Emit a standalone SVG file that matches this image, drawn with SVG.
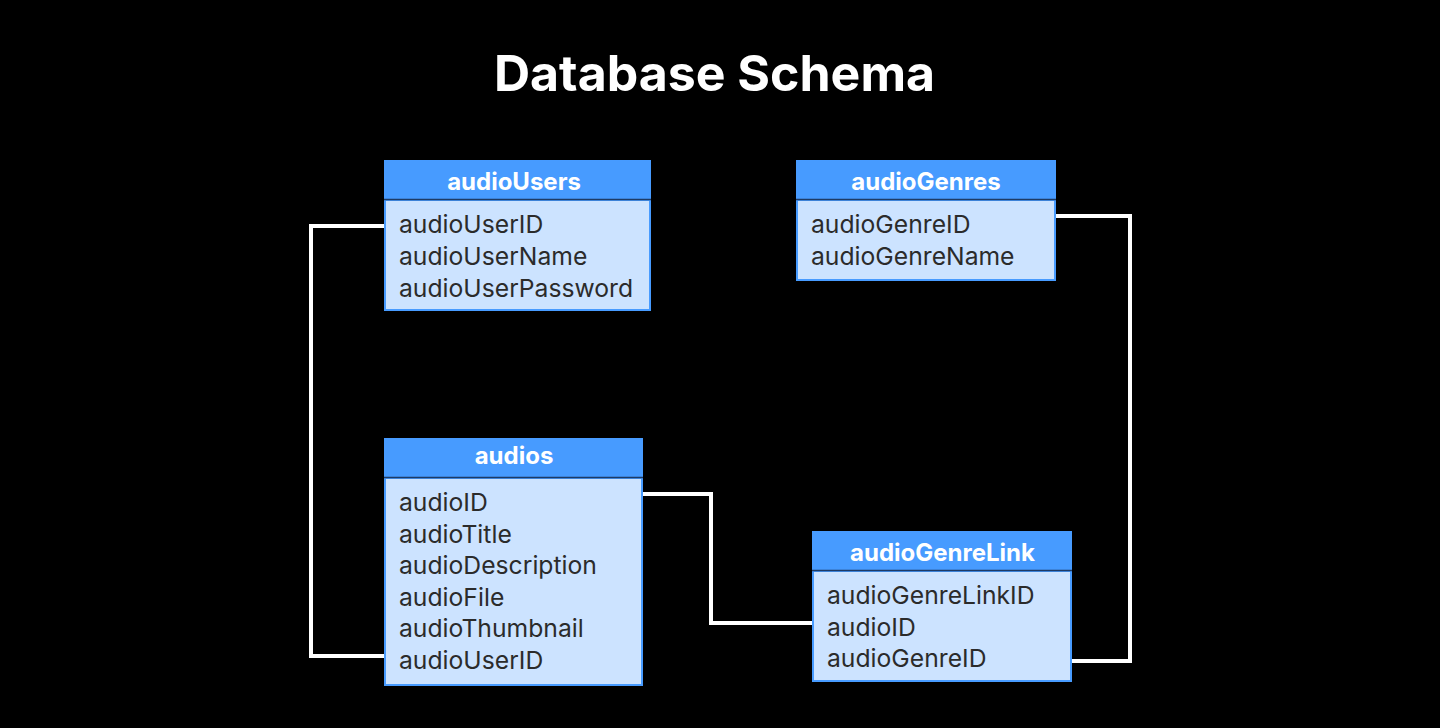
<svg xmlns="http://www.w3.org/2000/svg" width="1440" height="728" viewBox="0 0 1440 728">
<style>
.hd{fill:#479bff;stroke:#479bff;stroke-width:1}
.bd{fill:#cce3ff;stroke:#479bff;stroke-width:2}
.sep{stroke:#1d3b66;stroke-width:1.5}
.ht{font-family:Inter,"Liberation Sans",sans-serif;font-weight:700;font-size:24px;fill:#ffffff;text-anchor:middle}
.ft{font-family:Inter,"Liberation Sans",sans-serif;font-size:24.7px;fill:#2b2b2b}
.title{font-family:Inter,"Liberation Sans",sans-serif;font-weight:700;font-size:50px;fill:#ffffff;text-anchor:middle}
.cn{fill:none;stroke:#ffffff;stroke-width:4}
</style>
<rect width="1440" height="728" fill="#000000"/>
<text class="title" x="714.5" y="91">Database Schema</text>
<g id="connectors">
<polyline class="cn" points="384,226 311,226 311,656 384,656"/>
<polyline class="cn" points="643,494 711,494 711,623 812,623"/>
<polyline class="cn" points="1056,216 1130,216 1130,661 1072,661"/>
</g>
<g id="audioUsers">
<rect class="hd" x="384.5" y="160.5" width="266" height="39"/>
<rect class="bd" x="385" y="200" width="265" height="110"/>
<line class="sep" x1="384" y1="199.5" x2="651" y2="199.5"/>
<text class="ht" x="514" y="190">audioUsers</text>
<text class="ft" x="399" y="233">audioUserID</text>
<text class="ft" x="399" y="265">audioUserName</text>
<text class="ft" x="399" y="297">audioUserPassword</text>
</g>
<g id="audioGenres">
<rect class="hd" x="796.5" y="160.5" width="259" height="39"/>
<rect class="bd" x="797" y="200" width="258" height="80"/>
<line class="sep" x1="796" y1="199.5" x2="1056" y2="199.5"/>
<text class="ht" x="926" y="190">audioGenres</text>
<text class="ft" x="811" y="233">audioGenreID</text>
<text class="ft" x="811" y="265">audioGenreName</text>
</g>
<g id="audios">
<rect class="hd" x="384.5" y="438.5" width="258" height="39"/>
<rect class="bd" x="385" y="478" width="257" height="207"/>
<line class="sep" x1="384" y1="477.5" x2="643" y2="477.5"/>
<text class="ht" x="514" y="464">audios</text>
<text class="ft" x="399" y="511">audioID</text>
<text class="ft" x="399" y="543">audioTitle</text>
<text class="ft" x="399" y="574">audioDescription</text>
<text class="ft" x="399" y="606">audioFile</text>
<text class="ft" x="399" y="637">audioThumbnail</text>
<text class="ft" x="399" y="669">audioUserID</text>
</g>
<g id="audioGenreLink">
<rect class="hd" x="812.5" y="531.5" width="259" height="39"/>
<rect class="bd" x="813" y="571" width="258" height="110"/>
<line class="sep" x1="812" y1="570.5" x2="1072" y2="570.5"/>
<text class="ht" x="942.5" y="561">audioGenreLink</text>
<text class="ft" x="827" y="604">audioGenreLinkID</text>
<text class="ft" x="827" y="636">audioID</text>
<text class="ft" x="827" y="667">audioGenreID</text>
</g>
</svg>
